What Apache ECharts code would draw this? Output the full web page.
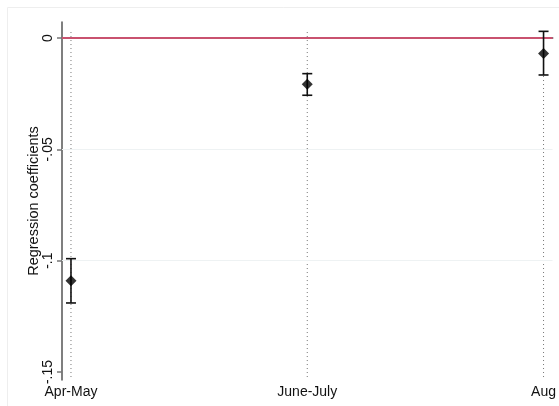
<!DOCTYPE html>
<html><head><meta charset="utf-8">
<script src="https://cdn.jsdelivr.net/npm/echarts@6/dist/echarts.min.js"></script>
<style>html,body{margin:0;padding:0;background:#fff}#c{width:559px;height:406px}</style>
</head><body><div id="c"></div>
<script>
const categories = ['Apr-May', 'June-July', 'Aug'];
const coef = [-0.109, -0.0208, -0.0069];
const ciUpper = [-0.0991, -0.016, 0.003];
const ciLower = [-0.119, -0.0257, -0.0166];
const yTicks = [0, -0.05, -0.1, -0.15];
const yTickLabels = ['0', '-.05', '-.1', '-.15'];
const gridValues = [-0.05, -0.1];

const chart = echarts.init(document.getElementById('c'));
const FONT = 'Liberation Sans';
const pos = categories.map((c, i) => i);

const series = [];
pos.forEach(p => {
  series.push({type: 'line', data: [[p, 0.0027], [p, -0.1525]], symbol: 'none', silent: true,
    lineStyle: {color: '#777', width: 1, type: [1, 3]}, z: 1});
});
series.push({type: 'line', data: [], silent: true,
  markLine: {symbol: 'none', silent: true, label: {show: false},
    data: gridValues.map(v => ({yAxis: v, lineStyle: {color: '#eef2f3', width: 1, type: 'solid'}}))
      .concat([{yAxis: 0, lineStyle: {color: '#c9526f', width: 2, type: 'solid'}}])}, z: 2});
series.push({type: 'custom', z: 5,
  data: pos.map((p, i) => [p, ciLower[i], ciUpper[i]]),
  renderItem: function (params, api) {
    const lo = api.coord([api.value(0), api.value(1)]);
    const hi = api.coord([api.value(0), api.value(2)]);
    const w = 5;
    const st = {stroke: '#111', lineWidth: 1.6};
    return {type: 'group', children: [
      {type: 'line', shape: {x1: lo[0], y1: lo[1], x2: hi[0], y2: hi[1]}, style: st},
      {type: 'line', shape: {x1: lo[0] - w, y1: lo[1], x2: lo[0] + w, y2: lo[1]}, style: st},
      {type: 'line', shape: {x1: hi[0] - w, y1: hi[1], x2: hi[0] + w, y2: hi[1]}, style: st}
    ]};
  }
});
series.push({type: 'scatter', data: pos.map((p, i) => [p, coef[i]]), symbol: 'diamond', symbolSize: 11,
  itemStyle: {color: '#000'}, z: 6});

chart.setOption({
  animation: false,
  backgroundColor: '#fff',
  graphic: [{type: 'rect', shape: {x: 7.5, y: 7.5, width: 600, height: 500}, style: {fill: 'none', stroke: '#eeeeee', lineWidth: 1}, silent: true}],
  grid: {left: 62, right: 6, top: 22, bottom: 26},
  xAxis: {type: 'value', min: -0.038, max: 2.038,
    axisLine: {show: true, lineStyle: {color: '#777', width: 2}},
    axisTick: {show: false}, splitLine: {show: false},
    axisLabel: {customValues: pos, formatter: v => categories[Math.round(v)], color: '#111',
      fontFamily: FONT, fontSize: 14, margin: 5}},
  yAxis: {type: 'value', min: -0.1536, max: 0.0072,
    axisLine: {show: true, onZero: false, lineStyle: {color: '#555', width: 1.5}},
    axisTick: {show: true, customValues: yTicks, length: 5, lineStyle: {color: '#777', width: 1.5}},
    splitLine: {show: false},
    axisLabel: {customValues: yTicks, rotate: 90, color: '#111', fontFamily: FONT, fontSize: 14, margin: 7,
      formatter: v => { const i = yTicks.findIndex(t => Math.abs(t - v) < 1e-9); return i >= 0 ? yTickLabels[i] : ''; }},
    name: 'Regression coefficients', nameLocation: 'middle', nameGap: 21, nameRotate: 90,
    nameMoveOverlap: false,
    nameTextStyle: {color: '#111', fontFamily: FONT, fontSize: 14.5}},
  series: series
});
</script></body></html>
